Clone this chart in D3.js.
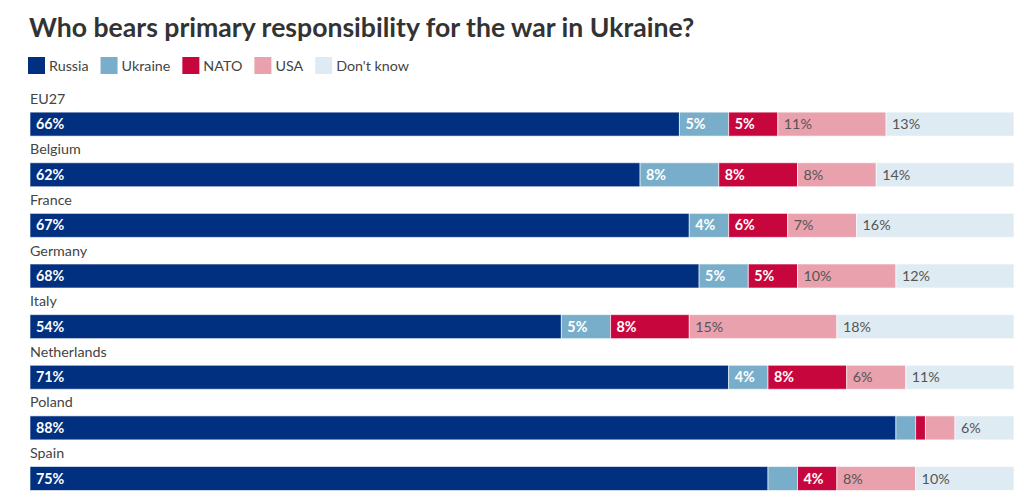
<!DOCTYPE html>
<html>
<head>
<meta charset="utf-8">
<script src="https://cdn.jsdelivr.net/npm/d3@7/dist/d3.min.js"></script>
<style>
  html, body { margin: 0; padding: 0; background: #fff; }
  svg { display: block; font-family: Lato, "Open Sans", sans-serif; }
</style>
</head>
<body>
<svg id="chart" width="1024" height="504"></svg>
<script>
const title = "Who bears primary responsibility for the war in Ukraine?";
const countries = ["EU27", "Belgium", "France", "Germany", "Italy", "Netherlands", "Poland", "Spain"];
const seriesNames = ["Russia", "Ukraine", "NATO", "USA", "Don't know"];
const russia   = [66, 62, 67, 68, 54, 71, 88, 75];
const ukraine  = [5, 8, 4, 5, 5, 4, 2, 3];
const nato     = [5, 8, 6, 5, 8, 8, 1, 4];
const usa      = [11, 8, 7, 10, 15, 6, 3, 8];
const dontKnow = [13, 14, 16, 12, 18, 11, 6, 10];
const colors = ["#00307f", "#79aeca", "#c8063e", "#e9a1ae", "#dfebf2"];
const labelColors = ["#ffffff", "#ffffff", "#ffffff", "#555555", "#555555"];
const labelWeights = ["bold", "bold", "bold", "normal", "normal"];

const seriesValues = [russia, ukraine, nato, usa, dontKnow];
const rows = countries.map((c, i) => {
  const o = { country: c };
  seriesNames.forEach((s, j) => o[s] = seriesValues[j][i]);
  return o;
});
const stacked = d3.stack().keys(seriesNames)(rows);

const svg = d3.select("#chart");

svg.append("text")
  .attr("x", 29).attr("y", 37)
  .attr("font-size", 26.6).attr("font-weight", "bold")
  .attr("fill", "#333")
  .text(title);

// Legend
const legend = svg.append("g").attr("transform", "translate(28,57)");
let lx = 0;
seriesNames.forEach((s, j) => {
  const g = legend.append("g").attr("transform", `translate(${lx},0)`);
  g.append("rect").attr("width", 17).attr("height", 17).attr("fill", colors[j]);
  const t = g.append("text").attr("x", 21).attr("y", 14)
    .attr("font-size", 14.3).attr("fill", "#444").text(s);
  lx += 21 + t.node().getComputedTextLength() + 12;
});

const x = d3.scaleLinear().domain([0, 100]).range([30, 1014]);
const y = d3.scaleBand().domain(countries).range([86.5, 491.5]).paddingInner(0).paddingOuter(0);
const barH = 24;
const barOffset = y.bandwidth() - barH - 1;

const rowG = svg.selectAll("g.row").data(countries).join("g")
  .attr("class", "row")
  .attr("transform", d => `translate(0,${y(d)})`);

rowG.append("text")
  .attr("x", 30).attr("y", barOffset - 8.5)
  .attr("font-size", 14.3).attr("fill", "#444")
  .text(d => d);

stacked.forEach((layer, j) => {
  layer.forEach((seg, i) => {
    const yy = y(countries[i]) + barOffset;
    svg.append("rect")
      .attr("x", x(seg[0])).attr("y", yy)
      .attr("width", x(seg[1]) - x(seg[0])).attr("height", barH)
      .attr("fill", colors[j])
      .attr("stroke", "rgba(255,255,255,0.6)").attr("stroke-width", 1);
    const v = seg[1] - seg[0];
    if (v >= 4) {
      svg.append("text")
        .attr("x", x(seg[0]) + 6).attr("y", yy + barH / 2 + 5)
        .attr("font-size", 14.3)
        .attr("font-weight", labelWeights[j])
        .attr("fill", labelColors[j])
        .text(v + "%");
    }
  });
});
</script>
</body>
</html>
